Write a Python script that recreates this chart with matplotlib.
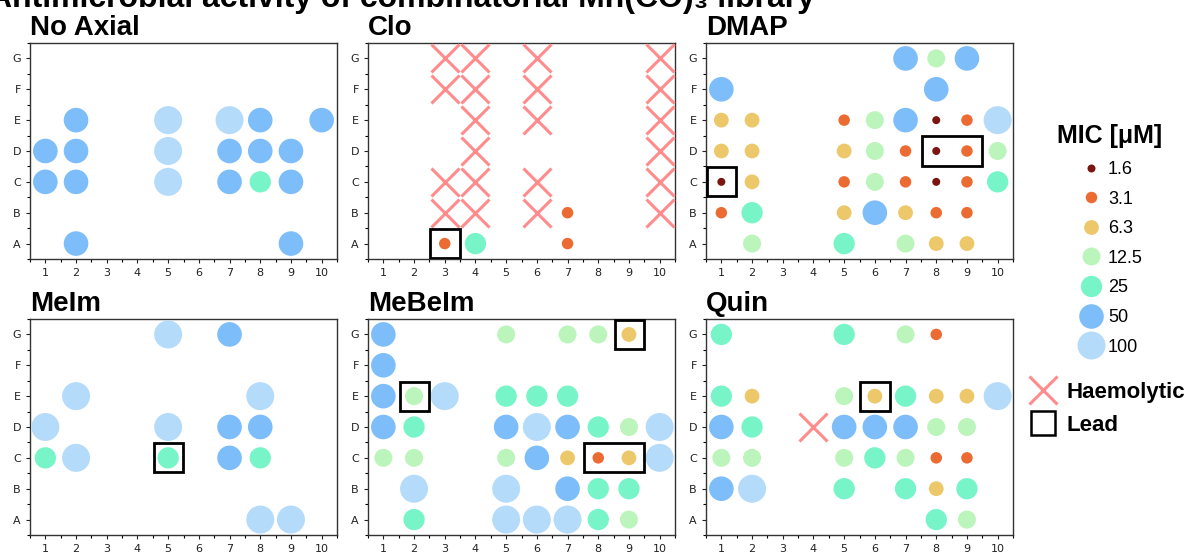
import numpy as np
import matplotlib
matplotlib.use("Agg")
import matplotlib.pyplot as plt
from matplotlib.patches import Rectangle
from matplotlib.lines import Line2D
from matplotlib.ticker import MultipleLocator

plt.rcParams['font.family'] = ['Liberation Sans', 'DejaVu Sans']

# MIC classes
mic_levels = [1.6, 3.1, 6.3, 12.5, 25, 50, 100]
mic_colors = ['#7a1510', '#ec6b33', '#ecc86a', '#bbf5bb', '#78f5c8', '#7dbdfa', '#b5dbfb']
mic_diam_px = [8, 11.5, 14.8, 18, 21.3, 24.6, 28]

row_labels = ['A', 'B', 'C', 'D', 'E', 'F', 'G']

panel_titles = ['No Axial', 'Clo', 'DMAP', 'MeIm', 'MeBeIm', 'Quin']

# (well, MIC) per panel
no_axial = {'E2': 50, 'E5': 100, 'E7': 100, 'E8': 50, 'E10': 50,
            'D1': 50, 'D2': 50, 'D5': 100, 'D7': 50, 'D8': 50, 'D9': 50,
            'C1': 50, 'C2': 50, 'C5': 100, 'C7': 50, 'C8': 25, 'C9': 50,
            'A2': 50, 'A9': 50}
clo = {'B7': 3.1, 'A3': 3.1, 'A4': 25, 'A7': 3.1}
dmap = {'G7': 50, 'G8': 12.5, 'G9': 50,
        'F1': 50, 'F8': 50,
        'E1': 6.3, 'E2': 6.3, 'E5': 3.1, 'E6': 12.5, 'E7': 50, 'E8': 1.6, 'E9': 3.1, 'E10': 100,
        'D1': 6.3, 'D2': 6.3, 'D5': 6.3, 'D6': 12.5, 'D7': 3.1, 'D8': 1.6, 'D9': 3.1, 'D10': 12.5,
        'C1': 1.6, 'C2': 6.3, 'C5': 3.1, 'C6': 12.5, 'C7': 3.1, 'C8': 1.6, 'C9': 3.1, 'C10': 25,
        'B1': 3.1, 'B2': 25, 'B5': 6.3, 'B6': 50, 'B7': 6.3, 'B8': 3.1, 'B9': 3.1,
        'A2': 12.5, 'A5': 25, 'A7': 12.5, 'A8': 6.3, 'A9': 6.3}
meim = {'G5': 100, 'G7': 50,
        'E2': 100, 'E8': 100,
        'D1': 100, 'D5': 100, 'D7': 50, 'D8': 50,
        'C1': 25, 'C2': 100, 'C5': 25, 'C7': 50, 'C8': 25,
        'A8': 100, 'A9': 100}
mebeim = {'G1': 50, 'G5': 12.5, 'G7': 12.5, 'G8': 12.5, 'G9': 6.3,
          'F1': 50,
          'E1': 50, 'E2': 12.5, 'E3': 100, 'E5': 25, 'E6': 25, 'E7': 25,
          'D1': 50, 'D2': 25, 'D5': 50, 'D6': 100, 'D7': 50, 'D8': 25, 'D9': 12.5, 'D10': 100,
          'C1': 12.5, 'C2': 12.5, 'C5': 12.5, 'C6': 50, 'C7': 6.3, 'C8': 3.1, 'C9': 6.3, 'C10': 100,
          'B2': 100, 'B5': 100, 'B7': 50, 'B8': 25, 'B9': 25,
          'A2': 25, 'A5': 100, 'A6': 100, 'A7': 100, 'A8': 25, 'A9': 12.5}
quin = {'G1': 25, 'G5': 25, 'G7': 12.5, 'G8': 3.1,
        'E1': 25, 'E2': 6.3, 'E5': 12.5, 'E6': 6.3, 'E7': 25, 'E8': 6.3, 'E9': 6.3, 'E10': 100,
        'D1': 50, 'D2': 25, 'D5': 50, 'D6': 50, 'D7': 50, 'D8': 12.5, 'D9': 12.5,
        'C1': 12.5, 'C2': 12.5, 'C5': 12.5, 'C6': 25, 'C7': 12.5, 'C8': 3.1, 'C9': 3.1,
        'B1': 50, 'B2': 100, 'B5': 25, 'B7': 25, 'B8': 6.3, 'B9': 25,
        'A8': 25, 'A9': 12.5}
panel_data = [no_axial, clo, dmap, meim, mebeim, quin]

# haemolytic wells
haemolytic = [[],
              ['G3', 'G4', 'G6', 'G10', 'F3', 'F4', 'F6', 'F10', 'E4', 'E6', 'E10',
               'D4', 'D10', 'C3', 'C4', 'C6', 'C10', 'B3', 'B4', 'B6', 'B10'],
              [], [], [],
              ['D4']]

# lead compounds: (row, first col, last col)
leads = [[],
         [('A', 3, 3)],
         [('C', 1, 1), ('D', 8, 9)],
         [('C', 5, 5)],
         [('G', 9, 9), ('E', 2, 2), ('C', 8, 9)],
         [('E', 6, 6)]]


def well_xy(w):
    return int(w[1:]), row_labels.index(w[0]) + 1


W, H = 1193, 554
fig = plt.figure(figsize=(W / 100, H / 100), dpi=100)

lefts = [30, 368, 706]
tops = [43, 319]
aw, ah = 307, 216

px2pt = 0.72

for i in range(6):
    r, c = divmod(i, 3)
    ax = fig.add_axes([lefts[c] / W, 1 - (tops[r] + ah) / H, aw / W, ah / H])
    d = panel_data[i]
    xs = [well_xy(w)[0] for w in d]
    ys = [well_xy(w)[1] for w in d]
    cls = [mic_levels.index(v) for v in d.values()]
    ax.scatter(xs, ys, s=[(mic_diam_px[k] * px2pt) ** 2 for k in cls],
               c=[mic_colors[k] for k in cls], linewidths=0, zorder=3)
    if haemolytic[i]:
        hx = [well_xy(w)[0] for w in haemolytic[i]]
        hy = [well_xy(w)[1] for w in haemolytic[i]]
        ax.scatter(hx, hy, marker='x', s=(28 * px2pt) ** 2, c='#ff8c8c',
                   linewidths=2.2, zorder=3)
    for row, c0, c1 in leads[i]:
        y = row_labels.index(row) + 1
        ax.add_patch(Rectangle((c0 - 0.47, y - 0.47), c1 - c0 + 0.96, 0.94,
                               fill=False, ec='black', lw=2, zorder=4))
    ax.set_xlim(0.5, 10.5)
    ax.set_ylim(0.5, 7.5)
    ax.set_xticks(range(1, 11))
    ax.set_yticks(range(1, 8))
    ax.set_yticklabels(row_labels)
    ax.xaxis.set_minor_locator(MultipleLocator(0.5))
    ax.yaxis.set_minor_locator(MultipleLocator(0.5))
    ax.tick_params(labelsize=8, length=3, width=0.8, colors='#222222')
    ax.tick_params(which='minor', length=2, width=0.8)
    for ticklabel in ax.get_xticklabels() + ax.get_yticklabels():
        ticklabel.set_family('DejaVu Sans')
    for sp in ax.spines.values():
        sp.set_color('#333333')
        sp.set_linewidth(1.0)
    ax.set_title(panel_titles[i], loc='left', fontsize=20, fontweight='bold', pad=6)

# figure title, partly cropped at the top edge as in the source
fig.text(402 / W, 1 - 7 / H, 'Antimicrobial activity of combinatorial Mn(CO)₃ library',
         ha='center', va='baseline', fontsize=23, fontweight='bold')

mic_handles = [Line2D([], [], ls='none', marker='o', ms=mic_diam_px[k] * px2pt,
                      mfc=mic_colors[k], mec='none') for k in range(len(mic_levels))]
leg1 = fig.legend(mic_handles, [f'{v:g}' for v in mic_levels], title='MIC [μM]',
                  loc='upper center', bbox_to_anchor=(1110 / W, 1 - 108 / H),
                  frameon=False, fontsize=13, labelspacing=0.7, handletextpad=0.2,
                  handlelength=1.5)
leg1.get_title().set_fontweight('bold')
leg1.get_title().set_fontsize(18)

other_handles = [Line2D([], [], ls='none', marker='x', ms=28 * px2pt, mec='#ff8c8c', mew=2.2),
                 Line2D([], [], ls='none', marker='s', ms=24 * px2pt, mfc='none', mec='black', mew=1.8)]
leg2 = fig.legend(other_handles, ['Haemolytic', 'Lead'], loc='upper left',
                  bbox_to_anchor=(1006 / W, 1 - 362 / H), frameon=False,
                  prop={'weight': 'bold', 'size': 16}, labelspacing=0.55,
                  handletextpad=0.3, handlelength=1.5)

fig.savefig('out.png', dpi=100)
